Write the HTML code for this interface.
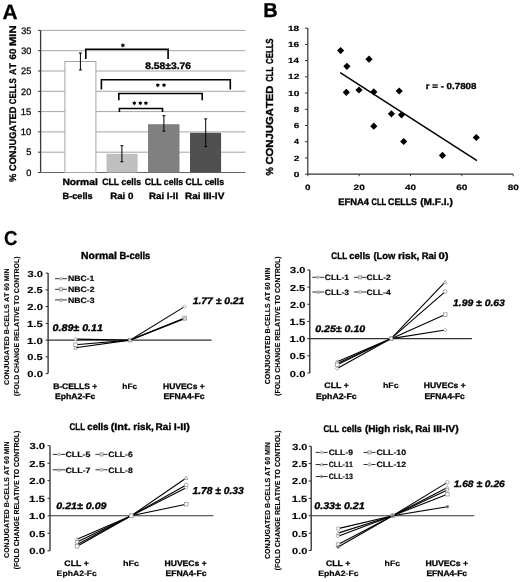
<!DOCTYPE html>
<html><head><meta charset="utf-8"><style>
html,body{margin:0;padding:0;background:#fff;width:520px;height:582px;overflow:hidden}
svg{display:block;filter:grayscale(1) blur(0.3px)}
text{font-family:"Liberation Sans",sans-serif;font-kerning:none;white-space:pre;text-rendering:geometricPrecision}
</style></head><body>
<svg width="520" height="582" viewBox="0 0 520 582">
<rect width="520" height="582" fill="#fff"/>
<text transform="translate(2.48,18.50) scale(1.0110,1)" font-size="20.640" font-weight="bold" font-style="normal" fill="#000" stroke="#000" stroke-width="0.3">A</text>
<line x1="38.00" y1="172.50" x2="40.60" y2="172.50" stroke="#3a3a3a" stroke-width="1"/>
<line x1="40.60" y1="152.20" x2="245.40" y2="152.20" stroke="#a6a6a6" stroke-width="1"/>
<line x1="38.00" y1="152.20" x2="40.60" y2="152.20" stroke="#3a3a3a" stroke-width="1"/>
<line x1="40.60" y1="131.90" x2="245.40" y2="131.90" stroke="#a6a6a6" stroke-width="1"/>
<line x1="38.00" y1="131.90" x2="40.60" y2="131.90" stroke="#3a3a3a" stroke-width="1"/>
<line x1="40.60" y1="111.60" x2="245.40" y2="111.60" stroke="#a6a6a6" stroke-width="1"/>
<line x1="38.00" y1="111.60" x2="40.60" y2="111.60" stroke="#3a3a3a" stroke-width="1"/>
<line x1="40.60" y1="91.30" x2="245.40" y2="91.30" stroke="#a6a6a6" stroke-width="1"/>
<line x1="38.00" y1="91.30" x2="40.60" y2="91.30" stroke="#3a3a3a" stroke-width="1"/>
<line x1="40.60" y1="71.00" x2="245.40" y2="71.00" stroke="#a6a6a6" stroke-width="1"/>
<line x1="38.00" y1="71.00" x2="40.60" y2="71.00" stroke="#3a3a3a" stroke-width="1"/>
<line x1="40.60" y1="50.70" x2="245.40" y2="50.70" stroke="#a6a6a6" stroke-width="1"/>
<line x1="38.00" y1="50.70" x2="40.60" y2="50.70" stroke="#3a3a3a" stroke-width="1"/>
<line x1="40.60" y1="30.40" x2="245.40" y2="30.40" stroke="#a6a6a6" stroke-width="1"/>
<line x1="38.00" y1="30.40" x2="40.60" y2="30.40" stroke="#3a3a3a" stroke-width="1"/>
<text transform="translate(26.14,175.70) scale(0.9888,1)" font-size="9.309" font-weight="normal" font-style="normal" fill="#000" stroke="#000" stroke-width="0.25">0</text>
<text transform="translate(26.13,155.40) scale(0.9823,1)" font-size="9.448" font-weight="normal" font-style="normal" fill="#000" stroke="#000" stroke-width="0.25">5</text>
<text transform="translate(20.78,135.10) scale(1.0127,1)" font-size="9.309" font-weight="normal" font-style="normal" fill="#000" stroke="#000" stroke-width="0.25">10</text>
<text transform="translate(20.78,114.80) scale(1.0008,1)" font-size="9.448" font-weight="normal" font-style="normal" fill="#000" stroke="#000" stroke-width="0.25">15</text>
<text transform="translate(21.04,94.50) scale(0.9871,1)" font-size="9.309" font-weight="normal" font-style="normal" fill="#000" stroke="#000" stroke-width="0.25">20</text>
<text transform="translate(21.04,74.20) scale(0.9899,1)" font-size="9.309" font-weight="normal" font-style="normal" fill="#000" stroke="#000" stroke-width="0.25">25</text>
<text transform="translate(21.15,53.90) scale(0.9755,1)" font-size="9.309" font-weight="normal" font-style="normal" fill="#000" stroke="#000" stroke-width="0.25">30</text>
<text transform="translate(21.15,33.60) scale(0.9782,1)" font-size="9.309" font-weight="normal" font-style="normal" fill="#000" stroke="#000" stroke-width="0.25">35</text>
<line x1="40.60" y1="30.40" x2="40.60" y2="172.50" stroke="#3a3a3a" stroke-width="1.3"/>
<line x1="40.60" y1="172.50" x2="245.40" y2="172.50" stroke="#666" stroke-width="1"/>
<rect x="64.90" y="61.50" width="31.00" height="111.00" fill="#ffffff" stroke="#a6a6a6" stroke-width="1"/>
<rect x="106.50" y="153.80" width="31.10" height="18.70" fill="#c0c0c0"/>
<rect x="148.00" y="124.20" width="31.50" height="48.30" fill="#808080"/>
<rect x="190.00" y="132.80" width="31.10" height="39.70" fill="#505050"/>
<line x1="80.40" y1="53.00" x2="80.40" y2="70.00" stroke="#000" stroke-width="1"/>
<line x1="78.90" y1="53.00" x2="81.90" y2="53.00" stroke="#000" stroke-width="1"/>
<line x1="78.90" y1="70.00" x2="81.90" y2="70.00" stroke="#000" stroke-width="1"/>
<line x1="121.90" y1="145.70" x2="121.90" y2="161.80" stroke="#000" stroke-width="1"/>
<line x1="120.40" y1="145.70" x2="123.40" y2="145.70" stroke="#000" stroke-width="1"/>
<line x1="120.40" y1="161.80" x2="123.40" y2="161.80" stroke="#000" stroke-width="1"/>
<line x1="163.90" y1="115.70" x2="163.90" y2="131.10" stroke="#000" stroke-width="1"/>
<line x1="162.40" y1="115.70" x2="165.40" y2="115.70" stroke="#000" stroke-width="1"/>
<line x1="162.40" y1="131.10" x2="165.40" y2="131.10" stroke="#000" stroke-width="1"/>
<line x1="205.70" y1="118.90" x2="205.70" y2="146.60" stroke="#000" stroke-width="1"/>
<line x1="204.20" y1="118.90" x2="207.20" y2="118.90" stroke="#000" stroke-width="1"/>
<line x1="204.20" y1="146.60" x2="207.20" y2="146.60" stroke="#000" stroke-width="1"/>
<polyline points="85.80,59.00 85.80,49.20 168.10,49.20 168.10,59.00" fill="none" stroke="#000" stroke-width="1.6" stroke-linejoin="miter"/>
<polyline points="101.40,89.60 101.40,79.70 230.30,79.70 230.30,89.60" fill="none" stroke="#000" stroke-width="1.6" stroke-linejoin="miter"/>
<polyline points="118.80,100.30 118.80,93.50 202.20,93.50 202.20,100.30" fill="none" stroke="#000" stroke-width="1.6" stroke-linejoin="miter"/>
<polyline points="119.40,112.00 119.40,108.50 162.50,108.50 162.50,112.00" fill="none" stroke="#000" stroke-width="1.6" stroke-linejoin="miter"/>
<polygon points="122.90,43.10 122.27,44.30 120.91,44.25 121.64,45.40 120.91,46.55 122.27,46.50 122.90,47.70 123.53,46.50 124.89,46.55 124.17,45.40 124.89,44.25 123.53,44.30" fill="#000"/>
<polygon points="157.80,82.90 157.17,84.10 155.81,84.05 156.54,85.20 155.81,86.35 157.17,86.30 157.80,87.50 158.43,86.30 159.79,86.35 159.06,85.20 159.79,84.05 158.43,84.10" fill="#000"/>
<polygon points="164.00,82.90 163.37,84.10 162.01,84.05 162.74,85.20 162.01,86.35 163.37,86.30 164.00,87.50 164.63,86.30 165.99,86.35 165.26,85.20 165.99,84.05 164.63,84.10" fill="#000"/>
<polygon points="134.30,100.90 133.67,102.10 132.31,102.05 133.04,103.20 132.31,104.35 133.67,104.30 134.30,105.50 134.93,104.30 136.29,104.35 135.56,103.20 136.29,102.05 134.93,102.10" fill="#000"/>
<polygon points="140.30,100.90 139.67,102.10 138.31,102.05 139.04,103.20 138.31,104.35 139.67,104.30 140.30,105.50 140.93,104.30 142.29,104.35 141.56,103.20 142.29,102.05 140.93,102.10" fill="#000"/>
<polygon points="145.90,100.90 145.27,102.10 143.91,102.05 144.64,103.20 143.91,104.35 145.27,104.30 145.90,105.50 146.53,104.30 147.89,104.35 147.16,103.20 147.89,102.05 146.53,102.10" fill="#000"/>
<text transform="translate(145.27,69.40) scale(1.0771,1)" font-size="9.596" font-weight="bold" font-style="normal" fill="#000" stroke="#000" stroke-width="0.3358433566433568">8.58±3.76</text>
<text transform="translate(62.41,184.80) scale(1.1117,1)" font-size="9.246" font-weight="bold" font-style="normal" fill="#000" stroke="#000" stroke-width="0.3236226415094348">Normal</text>
<text transform="translate(62.48,198.80) scale(1.0264,1)" font-size="8.970" font-weight="bold" font-style="normal" fill="#000" stroke="#000" stroke-width="0.3139622641509434">B-cells</text>
<text transform="translate(102.24,184.80) scale(0.9304,1)" font-size="9.384" font-weight="bold" font-style="normal" fill="#000" stroke="#000" stroke-width="0.3284528301886798">CLL cells</text>
<text transform="translate(110.15,198.50) scale(1.0728,1)" font-size="9.108" font-weight="bold" font-style="normal" fill="#000" stroke="#000" stroke-width="0.3187924528301884">Rai 0</text>
<text transform="translate(144.64,184.80) scale(0.9230,1)" font-size="9.384" font-weight="bold" font-style="normal" fill="#000" stroke="#000" stroke-width="0.3284528301886798">CLL cells</text>
<text transform="translate(148.95,198.50) scale(1.0723,1)" font-size="9.108" font-weight="bold" font-style="normal" fill="#000" stroke="#000" stroke-width="0.3187924528301884">Rai I-II</text>
<text transform="translate(185.44,184.80) scale(0.9255,1)" font-size="9.384" font-weight="bold" font-style="normal" fill="#000" stroke="#000" stroke-width="0.3284528301886798">CLL cells</text>
<text transform="translate(184.93,198.50) scale(1.0974,1)" font-size="9.108" font-weight="bold" font-style="normal" fill="#000" stroke="#000" stroke-width="0.3187924528301884">Rai III-IV</text>
<text transform="translate(15.90,182.03) rotate(-90) scale(0.9828,1)" font-size="9.593" font-weight="bold" font-style="normal" fill="#000" stroke="#000" stroke-width="0.3">%</text>
<text transform="translate(15.90,170.88) rotate(-90) scale(0.9569,1)" font-size="9.593" font-weight="bold" font-style="normal" fill="#000" stroke="#000" stroke-width="0.3">CONJUGATED</text>
<text transform="translate(15.90,104.22) rotate(-90) scale(0.8247,1)" font-size="9.593" font-weight="bold" font-style="normal" fill="#000" stroke="#000" stroke-width="0.3">CELLS</text>
<text transform="translate(15.90,75.02) rotate(-90) scale(0.9401,1)" font-size="9.593" font-weight="bold" font-style="normal" fill="#000" stroke="#000" stroke-width="0.3">AT</text>
<text transform="translate(15.90,59.45) rotate(-90) scale(1.0075,1)" font-size="9.593" font-weight="bold" font-style="normal" fill="#000" stroke="#000" stroke-width="0.3">60</text>
<text transform="translate(15.90,46.06) rotate(-90) scale(1.1782,1)" font-size="9.593" font-weight="bold" font-style="normal" fill="#000" stroke="#000" stroke-width="0.3">MIN</text>
<text transform="translate(263.26,17.30) scale(0.9973,1)" font-size="20.058" font-weight="bold" font-style="normal" fill="#000" stroke="#000" stroke-width="0.3">B</text>
<line x1="307.80" y1="28.10" x2="307.80" y2="174.20" stroke="#333" stroke-width="1.2"/>
<line x1="307.80" y1="174.20" x2="513.10" y2="174.20" stroke="#333" stroke-width="1.2"/>
<line x1="305.00" y1="174.20" x2="307.80" y2="174.20" stroke="#333" stroke-width="1"/>
<text transform="translate(293.70,176.80) scale(1.3297,1)" font-size="7.590" font-weight="bold" font-style="normal" fill="#000" stroke="#000" stroke-width="0.1518097902097897">0</text>
<line x1="305.00" y1="157.97" x2="307.80" y2="157.97" stroke="#333" stroke-width="1"/>
<text transform="translate(293.75,160.57) scale(1.3135,1)" font-size="7.590" font-weight="bold" font-style="normal" fill="#000" stroke="#000" stroke-width="0.1518097902097897">2</text>
<line x1="305.00" y1="141.74" x2="307.80" y2="141.74" stroke="#333" stroke-width="1"/>
<text transform="translate(293.96,144.34) scale(1.1632,1)" font-size="7.704" font-weight="bold" font-style="normal" fill="#000" stroke="#000" stroke-width="0.1540723917672103">4</text>
<line x1="305.00" y1="125.51" x2="307.80" y2="125.51" stroke="#333" stroke-width="1"/>
<text transform="translate(293.74,128.11) scale(1.3082,1)" font-size="7.590" font-weight="bold" font-style="normal" fill="#000" stroke="#000" stroke-width="0.15180979020979013">6</text>
<line x1="305.00" y1="109.28" x2="307.80" y2="109.28" stroke="#333" stroke-width="1"/>
<text transform="translate(293.79,111.88) scale(1.2810,1)" font-size="7.590" font-weight="bold" font-style="normal" fill="#000" stroke="#000" stroke-width="0.15180979020979013">8</text>
<line x1="305.00" y1="93.05" x2="307.80" y2="93.05" stroke="#333" stroke-width="1"/>
<text transform="translate(287.96,95.65) scale(1.3458,1)" font-size="7.590" font-weight="bold" font-style="normal" fill="#000" stroke="#000" stroke-width="0.15180979020979013">10</text>
<line x1="305.00" y1="76.82" x2="307.80" y2="76.82" stroke="#333" stroke-width="1"/>
<text transform="translate(287.96,79.42) scale(1.3445,1)" font-size="7.590" font-weight="bold" font-style="normal" fill="#000" stroke="#000" stroke-width="0.15180979020979013">12</text>
<line x1="305.00" y1="60.59" x2="307.80" y2="60.59" stroke="#333" stroke-width="1"/>
<text transform="translate(287.98,63.19) scale(1.2808,1)" font-size="7.704" font-weight="bold" font-style="normal" fill="#000" stroke="#000" stroke-width="0.1540723917672109">14</text>
<line x1="305.00" y1="44.36" x2="307.80" y2="44.36" stroke="#333" stroke-width="1"/>
<text transform="translate(287.96,46.96) scale(1.3393,1)" font-size="7.590" font-weight="bold" font-style="normal" fill="#000" stroke="#000" stroke-width="0.15180979020979032">16</text>
<line x1="305.00" y1="28.13" x2="307.80" y2="28.13" stroke="#333" stroke-width="1"/>
<text transform="translate(287.96,30.73) scale(1.3322,1)" font-size="7.590" font-weight="bold" font-style="normal" fill="#000" stroke="#000" stroke-width="0.15180979020979024">18</text>
<line x1="307.80" y1="174.20" x2="307.80" y2="176.20" stroke="#333" stroke-width="1"/>
<text transform="translate(305.06,189.50) scale(1.2779,1)" font-size="7.734" font-weight="bold" font-style="normal" fill="#000" stroke="#000" stroke-width="0.15467412587412604">0</text>
<line x1="359.15" y1="174.20" x2="359.15" y2="176.20" stroke="#333" stroke-width="1"/>
<text transform="translate(353.55,189.50) scale(1.3097,1)" font-size="7.734" font-weight="bold" font-style="normal" fill="#000" stroke="#000" stroke-width="0.15467412587412604">20</text>
<line x1="410.50" y1="174.20" x2="410.50" y2="176.20" stroke="#333" stroke-width="1"/>
<text transform="translate(405.10,189.50) scale(1.2855,1)" font-size="7.734" font-weight="bold" font-style="normal" fill="#000" stroke="#000" stroke-width="0.15467412587412604">40</text>
<line x1="461.85" y1="174.20" x2="461.85" y2="176.20" stroke="#333" stroke-width="1"/>
<text transform="translate(456.23,189.50) scale(1.3122,1)" font-size="7.734" font-weight="bold" font-style="normal" fill="#000" stroke="#000" stroke-width="0.15467412587412604">60</text>
<line x1="513.20" y1="174.20" x2="513.20" y2="176.20" stroke="#333" stroke-width="1"/>
<text transform="translate(507.63,189.50) scale(1.3060,1)" font-size="7.734" font-weight="bold" font-style="normal" fill="#000" stroke="#000" stroke-width="0.15467412587412604">80</text>
<text transform="translate(338.17,205.10) scale(0.9819,1)" font-size="9.593" font-weight="bold" font-style="normal" fill="#000" stroke="#000" stroke-width="0.33575581395348814">EFNA4</text>
<text transform="translate(371.59,205.10) scale(0.7851,1)" font-size="9.593" font-weight="bold" font-style="normal" fill="#000" stroke="#000" stroke-width="0.33575581395348814">CLL</text>
<text transform="translate(388.04,205.10) scale(0.9193,1)" font-size="9.593" font-weight="bold" font-style="normal" fill="#000" stroke="#000" stroke-width="0.33575581395348814">CELLS</text>
<text transform="translate(420.20,205.10) scale(1.0553,1)" font-size="9.593" font-weight="bold" font-style="normal" fill="#000" stroke="#000" stroke-width="0.33575581395348814">(M.F.I.)</text>
<text transform="translate(273.20,175.53) rotate(-90) scale(0.9150,1)" font-size="10.174" font-weight="bold" font-style="normal" fill="#000" stroke="#000" stroke-width="0.3561046511627908">%</text>
<text transform="translate(273.20,164.56) rotate(-90) scale(1.1097,1)" font-size="10.174" font-weight="bold" font-style="normal" fill="#000" stroke="#000" stroke-width="0.3561046511627908">CONJUGATED</text>
<text transform="translate(273.20,81.82) rotate(-90) scale(0.7560,1)" font-size="10.174" font-weight="bold" font-style="normal" fill="#000" stroke="#000" stroke-width="0.3561046511627908">CLL</text>
<text transform="translate(273.20,63.92) rotate(-90) scale(0.7653,1)" font-size="10.174" font-weight="bold" font-style="normal" fill="#000" stroke="#000" stroke-width="0.3561046511627908">CELLS</text>
<polygon points="340.6,47.0 344.20000000000005,50.6 340.6,54.2 337.0,50.6" fill="#000"/>
<polygon points="369,55.6 372.6,59.2 369,62.800000000000004 365.4,59.2" fill="#000"/>
<polygon points="346.9,62.699999999999996 350.5,66.3 346.9,69.89999999999999 343.29999999999995,66.3" fill="#000"/>
<polygon points="346.3,88.7 349.90000000000003,92.3 346.3,95.89999999999999 342.7,92.3" fill="#000"/>
<polygon points="359,86.4 362.6,90 359,93.6 355.4,90" fill="#000"/>
<polygon points="373.8,88.30000000000001 377.40000000000003,91.9 373.8,95.5 370.2,91.9" fill="#000"/>
<polygon points="399.2,87.4 402.8,91 399.2,94.6 395.59999999999997,91" fill="#000"/>
<polygon points="373.8,122.60000000000001 377.40000000000003,126.2 373.8,129.8 370.2,126.2" fill="#000"/>
<polygon points="391.4,110.2 395.0,113.8 391.4,117.39999999999999 387.79999999999995,113.8" fill="#000"/>
<polygon points="401.5,111.2 405.1,114.8 401.5,118.39999999999999 397.9,114.8" fill="#000"/>
<polygon points="403.7,137.9 407.3,141.5 403.7,145.1 400.09999999999997,141.5" fill="#000"/>
<polygon points="442.5,151.8 446.1,155.4 442.5,159.0 438.9,155.4" fill="#000"/>
<polygon points="476.3,133.9 479.90000000000003,137.5 476.3,141.1 472.7,137.5" fill="#000"/>
<line x1="340.20" y1="72.70" x2="477.00" y2="160.60" stroke="#000" stroke-width="1.5"/>
<text transform="translate(425.76,89.30) scale(1.1174,1)" font-size="8.736" font-weight="bold" font-style="normal" fill="#000" stroke="#000" stroke-width="0.30576783216783193">r = - 0.7808</text>
<text transform="translate(4.03,245.30) scale(0.9241,1)" font-size="20.194" font-weight="bold" font-style="normal" fill="#000" stroke="#000" stroke-width="0.2">C</text>
<line x1="48.10" y1="273.10" x2="48.10" y2="373.60" stroke="#2a2a2a" stroke-width="1.3"/>
<line x1="45.60" y1="373.60" x2="48.10" y2="373.60" stroke="#2a2a2a" stroke-width="1"/>
<line x1="45.60" y1="356.85" x2="48.10" y2="356.85" stroke="#2a2a2a" stroke-width="1"/>
<line x1="45.60" y1="340.10" x2="48.10" y2="340.10" stroke="#2a2a2a" stroke-width="1"/>
<line x1="45.60" y1="323.35" x2="48.10" y2="323.35" stroke="#2a2a2a" stroke-width="1"/>
<line x1="45.60" y1="306.60" x2="48.10" y2="306.60" stroke="#2a2a2a" stroke-width="1"/>
<line x1="45.60" y1="289.85" x2="48.10" y2="289.85" stroke="#2a2a2a" stroke-width="1"/>
<line x1="45.60" y1="273.10" x2="48.10" y2="273.10" stroke="#2a2a2a" stroke-width="1"/>
<line x1="48.10" y1="340.10" x2="211.60" y2="340.10" stroke="#333" stroke-width="1.2"/>
<text transform="translate(27.25,377.10) scale(1.2936,1)" font-size="8.736" font-weight="bold" font-style="normal" fill="#000" stroke="#000" stroke-width="0.12">0.0</text>
<text transform="translate(27.26,360.35) scale(1.2807,1)" font-size="8.736" font-weight="bold" font-style="normal" fill="#000" stroke="#000" stroke-width="0.12">0.5</text>
<text transform="translate(26.98,343.60) scale(1.3172,1)" font-size="8.736" font-weight="bold" font-style="normal" fill="#000" stroke="#000" stroke-width="0.12">1.0</text>
<text transform="translate(26.98,326.85) scale(1.2847,1)" font-size="8.866" font-weight="bold" font-style="normal" fill="#000" stroke="#000" stroke-width="0.12">1.5</text>
<text transform="translate(27.31,310.10) scale(1.2888,1)" font-size="8.736" font-weight="bold" font-style="normal" fill="#000" stroke="#000" stroke-width="0.12">2.0</text>
<text transform="translate(27.31,293.35) scale(1.2760,1)" font-size="8.736" font-weight="bold" font-style="normal" fill="#000" stroke="#000" stroke-width="0.12">2.5</text>
<text transform="translate(27.44,276.60) scale(1.2774,1)" font-size="8.736" font-weight="bold" font-style="normal" fill="#000" stroke="#000" stroke-width="0.12">3.0</text>
<polyline points="75.50,339.10 130.00,340.10 184.60,306.60" fill="none" stroke="#000" stroke-width="1.1" stroke-linejoin="miter"/>
<polygon points="75.50,337.30 77.30,339.10 75.50,340.90 73.70,339.10" fill="#fff" stroke="#999" stroke-width="0.8"/>
<polygon points="130.00,338.30 131.80,340.10 130.00,341.90 128.20,340.10" fill="#fff" stroke="#999" stroke-width="0.8"/>
<polygon points="184.60,304.80 186.40,306.60 184.60,308.40 182.80,306.60" fill="#fff" stroke="#999" stroke-width="0.8"/>
<polyline points="75.50,344.79 130.00,340.10 184.60,317.99" fill="none" stroke="#000" stroke-width="1.1" stroke-linejoin="miter"/>
<rect x="73.70" y="342.99" width="3.60" height="3.60" fill="#fff" stroke="#999" stroke-width="0.8"/>
<rect x="128.20" y="338.30" width="3.60" height="3.60" fill="#fff" stroke="#999" stroke-width="0.8"/>
<rect x="182.80" y="316.19" width="3.60" height="3.60" fill="#fff" stroke="#999" stroke-width="0.8"/>
<polyline points="75.50,347.81 130.00,340.10 184.60,318.66" fill="none" stroke="#000" stroke-width="1.1" stroke-linejoin="miter"/>
<polygon points="75.50,346.00 77.30,349.25 73.70,349.25" fill="#fff" stroke="#999" stroke-width="0.8"/>
<polygon points="130.00,338.30 131.80,341.54 128.20,341.54" fill="#fff" stroke="#999" stroke-width="0.8"/>
<polygon points="184.60,316.86 186.40,320.10 182.80,320.10" fill="#fff" stroke="#999" stroke-width="0.8"/>
<line x1="55.00" y1="278.70" x2="66.90" y2="278.70" stroke="#333" stroke-width="1"/>
<polygon points="60.95,277.10 62.55,278.70 60.95,280.30 59.35,278.70" fill="#d8d8d8" stroke="#999" stroke-width="0.8"/>
<text transform="translate(67.92,281.40) scale(1.1223,1)" font-size="7.734" font-weight="bold" font-style="normal" fill="#000" stroke="#000" stroke-width="0.1546741258741252">NBC-1</text>
<line x1="55.00" y1="289.30" x2="66.90" y2="289.30" stroke="#333" stroke-width="1"/>
<rect x="59.35" y="287.70" width="3.20" height="3.20" fill="#d8d8d8" stroke="#999" stroke-width="0.8"/>
<text transform="translate(67.92,292.00) scale(1.1270,1)" font-size="7.734" font-weight="bold" font-style="normal" fill="#000" stroke="#000" stroke-width="0.1546741258741252">NBC-2</text>
<line x1="55.00" y1="299.90" x2="66.90" y2="299.90" stroke="#333" stroke-width="1"/>
<polygon points="60.95,298.30 62.55,301.18 59.35,301.18" fill="#d8d8d8" stroke="#999" stroke-width="0.8"/>
<text transform="translate(67.92,302.60) scale(1.1255,1)" font-size="7.734" font-weight="bold" font-style="normal" fill="#000" stroke="#000" stroke-width="0.1546741258741252">NBC-3</text>
<text transform="translate(81.10,259.40) scale(1.0222,1)" font-size="10.174" font-weight="bold" font-style="normal" fill="#000" stroke="#000" stroke-width="0.35610465116278933">Normal</text>
<text transform="translate(119.57,259.40) scale(0.9235,1)" font-size="10.174" font-weight="bold" font-style="normal" fill="#000" stroke="#000" stroke-width="0.35610465116278933">B-cells</text>
<text transform="translate(52.56,331.20) scale(1.0992,1)" font-size="9.739" font-weight="bold" font-style="italic" fill="#000" stroke="#000" stroke-width="0.34085594405594466">0.89± 0.11</text>
<text transform="translate(192.63,304.10) scale(1.0808,1)" font-size="9.596" font-weight="bold" font-style="italic" fill="#000" stroke="#000" stroke-width="0.3358433566433589">1.77 ± 0.21</text>
<text transform="translate(53.13,388.70) scale(1.0588,1)" font-size="8.020" font-weight="bold" font-style="normal" fill="#000" stroke="#000" stroke-width="0.28070489510489344">B-CELLS +</text>
<text transform="translate(55.02,398.50) scale(1.0769,1)" font-size="8.004" font-weight="bold" font-style="normal" fill="#000" stroke="#000" stroke-width="0.28015094339622704">EphA2-Fc</text>
<text transform="translate(122.32,388.70) scale(1.0791,1)" font-size="7.728" font-weight="bold" font-style="normal" fill="#000" stroke="#000" stroke-width="0.15456603773584812">hFc</text>
<text transform="translate(163.03,388.70) scale(1.0574,1)" font-size="8.020" font-weight="bold" font-style="normal" fill="#000" stroke="#000" stroke-width="0.28070489510489344">HUVECs +</text>
<text transform="translate(163.42,398.50) scale(1.0235,1)" font-size="8.430" font-weight="bold" font-style="normal" fill="#000" stroke="#000" stroke-width="0.2950631653655081">EFNA4-Fc</text>
<text transform="translate(9.00,384.89) rotate(-90) scale(1.0202,1)" font-size="6.831" font-weight="bold" font-style="normal" fill="#000" stroke="#000" stroke-width="0.12">CONJUGATED B-CELLS AT 60 MIN</text>
<text transform="translate(19.20,396.05) rotate(-90) scale(0.9957,1)" font-size="6.977" font-weight="bold" font-style="normal" fill="#000" stroke="#000" stroke-width="0.12">(FOLD CHANGE RELATIVE TO CONTROL)</text>
<line x1="309.80" y1="269.90" x2="309.80" y2="373.00" stroke="#2a2a2a" stroke-width="1.3"/>
<line x1="307.30" y1="373.00" x2="309.80" y2="373.00" stroke="#2a2a2a" stroke-width="1"/>
<line x1="307.30" y1="355.82" x2="309.80" y2="355.82" stroke="#2a2a2a" stroke-width="1"/>
<line x1="307.30" y1="338.63" x2="309.80" y2="338.63" stroke="#2a2a2a" stroke-width="1"/>
<line x1="307.30" y1="321.45" x2="309.80" y2="321.45" stroke="#2a2a2a" stroke-width="1"/>
<line x1="307.30" y1="304.27" x2="309.80" y2="304.27" stroke="#2a2a2a" stroke-width="1"/>
<line x1="307.30" y1="287.08" x2="309.80" y2="287.08" stroke="#2a2a2a" stroke-width="1"/>
<line x1="307.30" y1="269.90" x2="309.80" y2="269.90" stroke="#2a2a2a" stroke-width="1"/>
<line x1="309.80" y1="338.63" x2="471.90" y2="338.63" stroke="#333" stroke-width="1.2"/>
<text transform="translate(289.86,376.50) scale(1.2761,1)" font-size="8.736" font-weight="bold" font-style="normal" fill="#000" stroke="#000" stroke-width="0.12">0.0</text>
<text transform="translate(289.86,359.32) scale(1.2634,1)" font-size="8.736" font-weight="bold" font-style="normal" fill="#000" stroke="#000" stroke-width="0.12">0.5</text>
<text transform="translate(289.58,342.13) scale(1.2994,1)" font-size="8.736" font-weight="bold" font-style="normal" fill="#000" stroke="#000" stroke-width="0.12">1.0</text>
<text transform="translate(289.59,324.95) scale(1.2673,1)" font-size="8.866" font-weight="bold" font-style="normal" fill="#000" stroke="#000" stroke-width="0.12">1.5</text>
<text transform="translate(289.91,307.77) scale(1.2714,1)" font-size="8.736" font-weight="bold" font-style="normal" fill="#000" stroke="#000" stroke-width="0.12">2.0</text>
<text transform="translate(289.92,290.58) scale(1.2588,1)" font-size="8.736" font-weight="bold" font-style="normal" fill="#000" stroke="#000" stroke-width="0.12">2.5</text>
<text transform="translate(290.05,273.40) scale(1.2602,1)" font-size="8.736" font-weight="bold" font-style="normal" fill="#000" stroke="#000" stroke-width="0.12">3.0</text>
<polyline points="337.20,361.66 391.10,338.63 445.20,281.93" fill="none" stroke="#000" stroke-width="1.1" stroke-linejoin="miter"/>
<polygon points="337.20,359.86 339.00,363.10 335.40,363.10" fill="#fff" stroke="#999" stroke-width="0.8"/>
<polygon points="391.10,336.83 392.90,340.07 389.30,340.07" fill="#fff" stroke="#999" stroke-width="0.8"/>
<polygon points="445.20,280.13 447.00,283.37 443.40,283.37" fill="#fff" stroke="#999" stroke-width="0.8"/>
<polyline points="337.20,363.38 391.10,338.63 445.20,291.55" fill="none" stroke="#000" stroke-width="1.1" stroke-linejoin="miter"/>
<circle cx="337.20" cy="363.38" r="1.8" fill="#fff" stroke="#999" stroke-width="0.8"/>
<circle cx="391.10" cy="338.63" r="1.8" fill="#fff" stroke="#999" stroke-width="0.8"/>
<circle cx="445.20" cy="291.55" r="1.8" fill="#fff" stroke="#999" stroke-width="0.8"/>
<polyline points="337.20,364.75 391.10,338.63 445.20,314.58" fill="none" stroke="#000" stroke-width="1.1" stroke-linejoin="miter"/>
<rect x="335.40" y="362.95" width="3.60" height="3.60" fill="#fff" stroke="#999" stroke-width="0.8"/>
<rect x="389.30" y="336.83" width="3.60" height="3.60" fill="#fff" stroke="#999" stroke-width="0.8"/>
<rect x="443.40" y="312.78" width="3.60" height="3.60" fill="#fff" stroke="#999" stroke-width="0.8"/>
<polyline points="337.20,368.53 391.10,338.63 445.20,330.04" fill="none" stroke="#000" stroke-width="1.1" stroke-linejoin="miter"/>
<polygon points="337.20,366.73 339.00,368.53 337.20,370.33 335.40,368.53" fill="#fff" stroke="#999" stroke-width="0.8"/>
<polygon points="391.10,336.83 392.90,338.63 391.10,340.43 389.30,338.63" fill="#fff" stroke="#999" stroke-width="0.8"/>
<polygon points="445.20,328.24 447.00,330.04 445.20,331.84 443.40,330.04" fill="#fff" stroke="#999" stroke-width="0.8"/>
<line x1="312.30" y1="277.30" x2="324.20" y2="277.30" stroke="#333" stroke-width="1"/>
<polygon points="318.25,275.70 319.85,277.30 318.25,278.90 316.65,277.30" fill="#d8d8d8" stroke="#999" stroke-width="0.8"/>
<text transform="translate(324.85,280.00) scale(1.1040,1)" font-size="7.734" font-weight="bold" font-style="normal" fill="#000" stroke="#000" stroke-width="0.1546741258741252">CLL-1</text>
<line x1="354.00" y1="277.30" x2="366.20" y2="277.30" stroke="#333" stroke-width="1"/>
<rect x="358.50" y="275.70" width="3.20" height="3.20" fill="#d8d8d8" stroke="#999" stroke-width="0.8"/>
<text transform="translate(366.55,280.00) scale(1.1136,1)" font-size="7.734" font-weight="bold" font-style="normal" fill="#000" stroke="#000" stroke-width="0.1546741258741252">CLL-2</text>
<line x1="312.30" y1="292.00" x2="324.20" y2="292.00" stroke="#333" stroke-width="1"/>
<polygon points="318.25,290.40 319.85,293.28 316.65,293.28" fill="#d8d8d8" stroke="#999" stroke-width="0.8"/>
<text transform="translate(324.85,294.70) scale(1.1073,1)" font-size="7.734" font-weight="bold" font-style="normal" fill="#000" stroke="#000" stroke-width="0.1546741258741252">CLL-3</text>
<line x1="354.00" y1="292.00" x2="366.20" y2="292.00" stroke="#333" stroke-width="1"/>
<circle cx="360.10" cy="292.00" r="1.6" fill="#d8d8d8" stroke="#999" stroke-width="0.8"/>
<text transform="translate(366.55,294.70) scale(1.0997,1)" font-size="7.734" font-weight="bold" font-style="normal" fill="#000" stroke="#000" stroke-width="0.1546741258741252">CLL-4</text>
<text transform="translate(331.37,258.80) scale(0.8464,1)" font-size="9.593" font-weight="bold" font-style="normal" fill="#000" stroke="#000" stroke-width="0.3357558139534896">CLL</text>
<text transform="translate(349.33,258.80) scale(0.9870,1)" font-size="9.593" font-weight="bold" font-style="normal" fill="#000" stroke="#000" stroke-width="0.3357558139534896">cells</text>
<text transform="translate(373.43,258.80) scale(0.9810,1)" font-size="9.593" font-weight="bold" font-style="normal" fill="#000" stroke="#000" stroke-width="0.3357558139534896">(Low</text>
<text transform="translate(397.91,258.80) scale(1.0943,1)" font-size="9.593" font-weight="bold" font-style="normal" fill="#000" stroke="#000" stroke-width="0.3357558139534896">risk,</text>
<text transform="translate(421.66,258.80) scale(0.9921,1)" font-size="9.593" font-weight="bold" font-style="normal" fill="#000" stroke="#000" stroke-width="0.3357558139534896">Rai</text>
<text transform="translate(438.45,258.80) scale(1.1730,1)" font-size="9.593" font-weight="bold" font-style="normal" fill="#000" stroke="#000" stroke-width="0.3357558139534896">0)</text>
<text transform="translate(315.26,331.80) scale(1.1051,1)" font-size="9.596" font-weight="bold" font-style="italic" fill="#000" stroke="#000" stroke-width="0.33584335664335613">0.25± 0.10</text>
<text transform="translate(453.03,306.00) scale(1.0984,1)" font-size="9.452" font-weight="bold" font-style="italic" fill="#000" stroke="#000" stroke-width="0.3308307692307704">1.99 ± 0.63</text>
<text transform="translate(324.34,388.40) scale(1.0939,1)" font-size="8.020" font-weight="bold" font-style="normal" fill="#000" stroke="#000" stroke-width="0.28070489510489344">CLL +</text>
<text transform="translate(315.92,398.80) scale(1.0906,1)" font-size="8.004" font-weight="bold" font-style="normal" fill="#000" stroke="#000" stroke-width="0.28015094339622704">EphA2-Fc</text>
<text transform="translate(382.99,388.40) scale(1.1331,1)" font-size="7.728" font-weight="bold" font-style="normal" fill="#000" stroke="#000" stroke-width="0.15456603773584812">hFc</text>
<text transform="translate(423.83,388.40) scale(1.0600,1)" font-size="8.020" font-weight="bold" font-style="normal" fill="#000" stroke="#000" stroke-width="0.28070489510489344">HUVECs +</text>
<text transform="translate(424.43,398.80) scale(1.0032,1)" font-size="8.430" font-weight="bold" font-style="normal" fill="#000" stroke="#000" stroke-width="0.2950631653655081">EFNA4-Fc</text>
<text transform="translate(269.50,384.19) rotate(-90) scale(0.9615,1)" font-size="7.267" font-weight="bold" font-style="normal" fill="#000" stroke="#000" stroke-width="0.12">CONJUGATED B-CELLS AT 60 MIN</text>
<text transform="translate(279.60,395.85) rotate(-90) scale(0.9565,1)" font-size="7.267" font-weight="bold" font-style="normal" fill="#000" stroke="#000" stroke-width="0.12">(FOLD CHANGE RELATIVE TO CONTROL)</text>
<line x1="50.00" y1="445.70" x2="50.00" y2="550.80" stroke="#2a2a2a" stroke-width="1.3"/>
<line x1="47.50" y1="550.80" x2="50.00" y2="550.80" stroke="#2a2a2a" stroke-width="1"/>
<line x1="47.50" y1="533.28" x2="50.00" y2="533.28" stroke="#2a2a2a" stroke-width="1"/>
<line x1="47.50" y1="515.77" x2="50.00" y2="515.77" stroke="#2a2a2a" stroke-width="1"/>
<line x1="47.50" y1="498.25" x2="50.00" y2="498.25" stroke="#2a2a2a" stroke-width="1"/>
<line x1="47.50" y1="480.73" x2="50.00" y2="480.73" stroke="#2a2a2a" stroke-width="1"/>
<line x1="47.50" y1="463.22" x2="50.00" y2="463.22" stroke="#2a2a2a" stroke-width="1"/>
<line x1="47.50" y1="445.70" x2="50.00" y2="445.70" stroke="#2a2a2a" stroke-width="1"/>
<line x1="50.00" y1="515.77" x2="213.50" y2="515.77" stroke="#333" stroke-width="1.2"/>
<text transform="translate(29.25,554.30) scale(1.3111,1)" font-size="8.736" font-weight="bold" font-style="normal" fill="#000" stroke="#000" stroke-width="0.12">0.0</text>
<text transform="translate(29.25,536.78) scale(1.2980,1)" font-size="8.736" font-weight="bold" font-style="normal" fill="#000" stroke="#000" stroke-width="0.12">0.5</text>
<text transform="translate(28.97,519.27) scale(1.3350,1)" font-size="8.736" font-weight="bold" font-style="normal" fill="#000" stroke="#000" stroke-width="0.12">1.0</text>
<text transform="translate(28.97,501.75) scale(1.3020,1)" font-size="8.866" font-weight="bold" font-style="normal" fill="#000" stroke="#000" stroke-width="0.12">1.5</text>
<text transform="translate(29.30,484.23) scale(1.3062,1)" font-size="8.736" font-weight="bold" font-style="normal" fill="#000" stroke="#000" stroke-width="0.12">2.0</text>
<text transform="translate(29.31,466.72) scale(1.2933,1)" font-size="8.736" font-weight="bold" font-style="normal" fill="#000" stroke="#000" stroke-width="0.12">2.5</text>
<text transform="translate(29.44,449.20) scale(1.2947,1)" font-size="8.736" font-weight="bold" font-style="normal" fill="#000" stroke="#000" stroke-width="0.12">3.0</text>
<polyline points="77.10,539.24 131.30,515.77 186.20,477.93" fill="none" stroke="#000" stroke-width="1.1" stroke-linejoin="miter"/>
<polygon points="77.10,537.44 78.90,540.68 75.30,540.68" fill="#fff" stroke="#999" stroke-width="0.8"/>
<polygon points="131.30,513.97 133.10,517.21 129.50,517.21" fill="#fff" stroke="#999" stroke-width="0.8"/>
<polygon points="186.20,476.13 188.00,479.37 184.40,479.37" fill="#fff" stroke="#999" stroke-width="0.8"/>
<polyline points="77.10,542.04 131.30,515.77 186.20,484.94" fill="none" stroke="#000" stroke-width="1.1" stroke-linejoin="miter"/>
<circle cx="77.10" cy="542.04" r="1.8" fill="#fff" stroke="#999" stroke-width="0.8"/>
<circle cx="131.30" cy="515.77" r="1.8" fill="#fff" stroke="#999" stroke-width="0.8"/>
<circle cx="186.20" cy="484.94" r="1.8" fill="#fff" stroke="#999" stroke-width="0.8"/>
<polyline points="77.10,544.49 131.30,515.77 186.20,487.74" fill="none" stroke="#000" stroke-width="1.1" stroke-linejoin="miter"/>
<polygon points="77.10,542.69 78.90,544.49 77.10,546.29 75.30,544.49" fill="#fff" stroke="#999" stroke-width="0.8"/>
<polygon points="131.30,513.97 133.10,515.77 131.30,517.57 129.50,515.77" fill="#fff" stroke="#999" stroke-width="0.8"/>
<polygon points="186.20,485.94 188.00,487.74 186.20,489.54 184.40,487.74" fill="#fff" stroke="#999" stroke-width="0.8"/>
<polyline points="77.10,546.25 131.30,515.77 186.20,504.21" fill="none" stroke="#000" stroke-width="1.1" stroke-linejoin="miter"/>
<rect x="75.30" y="544.45" width="3.60" height="3.60" fill="#fff" stroke="#999" stroke-width="0.8"/>
<rect x="129.50" y="513.97" width="3.60" height="3.60" fill="#fff" stroke="#999" stroke-width="0.8"/>
<rect x="184.40" y="502.41" width="3.60" height="3.60" fill="#fff" stroke="#999" stroke-width="0.8"/>
<line x1="52.70" y1="454.40" x2="65.20" y2="454.40" stroke="#333" stroke-width="1"/>
<polygon points="58.95,452.80 60.55,454.40 58.95,456.00 57.35,454.40" fill="#d8d8d8" stroke="#999" stroke-width="0.8"/>
<text transform="translate(65.44,457.10) scale(1.1414,1)" font-size="7.734" font-weight="bold" font-style="normal" fill="#000" stroke="#000" stroke-width="0.1546741258741252">CLL-5</text>
<line x1="95.40" y1="454.40" x2="107.50" y2="454.40" stroke="#333" stroke-width="1"/>
<rect x="99.85" y="452.80" width="3.20" height="3.20" fill="#d8d8d8" stroke="#999" stroke-width="0.8"/>
<text transform="translate(108.14,457.10) scale(1.1261,1)" font-size="7.734" font-weight="bold" font-style="normal" fill="#000" stroke="#000" stroke-width="0.1546741258741252">CLL-6</text>
<line x1="52.70" y1="469.80" x2="65.20" y2="469.80" stroke="#333" stroke-width="1"/>
<polygon points="58.95,468.20 60.55,471.08 57.35,471.08" fill="#d8d8d8" stroke="#999" stroke-width="0.8"/>
<text transform="translate(65.44,472.50) scale(1.1481,1)" font-size="7.734" font-weight="bold" font-style="normal" fill="#000" stroke="#000" stroke-width="0.1546741258741252">CLL-7</text>
<line x1="95.40" y1="469.80" x2="107.50" y2="469.80" stroke="#333" stroke-width="1"/>
<circle cx="101.45" cy="469.80" r="1.6" fill="#d8d8d8" stroke="#999" stroke-width="0.8"/>
<text transform="translate(108.14,472.50) scale(1.1239,1)" font-size="7.734" font-weight="bold" font-style="normal" fill="#000" stroke="#000" stroke-width="0.1546741258741252">CLL-8</text>
<text transform="translate(69.57,429.70) scale(0.8173,1)" font-size="9.738" font-weight="bold" font-style="normal" fill="#000" stroke="#000" stroke-width="0.34084302325581345">CLL</text>
<text transform="translate(87.33,429.70) scale(0.9818,1)" font-size="9.738" font-weight="bold" font-style="normal" fill="#000" stroke="#000" stroke-width="0.34084302325581345">cells</text>
<text transform="translate(110.65,429.70) scale(1.1264,1)" font-size="9.738" font-weight="bold" font-style="normal" fill="#000" stroke="#000" stroke-width="0.34084302325581345">(Int.</text>
<text transform="translate(133.35,429.70) scale(1.0192,1)" font-size="9.738" font-weight="bold" font-style="normal" fill="#000" stroke="#000" stroke-width="0.34084302325581345">risk,</text>
<text transform="translate(155.53,429.70) scale(1.0352,1)" font-size="9.738" font-weight="bold" font-style="normal" fill="#000" stroke="#000" stroke-width="0.34084302325581345">Rai</text>
<text transform="translate(173.67,429.70) scale(1.1139,1)" font-size="9.738" font-weight="bold" font-style="normal" fill="#000" stroke="#000" stroke-width="0.34084302325581345">I-II)</text>
<text transform="translate(56.36,509.20) scale(1.1424,1)" font-size="9.309" font-weight="bold" font-style="italic" fill="#000" stroke="#000" stroke-width="0.32581818181818184">0.21± 0.09</text>
<text transform="translate(192.43,493.50) scale(1.0256,1)" font-size="10.025" font-weight="bold" font-style="italic" fill="#000" stroke="#000" stroke-width="0.35088111888111895">1.78 ± 0.33</text>
<text transform="translate(64.34,565.90) scale(1.0939,1)" font-size="8.020" font-weight="bold" font-style="normal" fill="#000" stroke="#000" stroke-width="0.28070489510489627">CLL +</text>
<text transform="translate(56.62,576.30) scale(1.1182,1)" font-size="7.728" font-weight="bold" font-style="normal" fill="#000" stroke="#000" stroke-width="0.15456603773584657">EphA2-Fc</text>
<text transform="translate(122.96,565.90) scale(1.1793,1)" font-size="7.728" font-weight="bold" font-style="normal" fill="#000" stroke="#000" stroke-width="0.15456603773584968">hFc</text>
<text transform="translate(164.53,565.90) scale(1.0678,1)" font-size="8.020" font-weight="bold" font-style="normal" fill="#000" stroke="#000" stroke-width="0.28070489510489627">HUVECs +</text>
<text transform="translate(165.42,576.30) scale(1.0574,1)" font-size="8.140" font-weight="bold" font-style="normal" fill="#000" stroke="#000" stroke-width="0.28488857345634744">EFNA4-Fc</text>
<text transform="translate(9.00,557.89) rotate(-90) scale(0.9990,1)" font-size="6.977" font-weight="bold" font-style="normal" fill="#000" stroke="#000" stroke-width="0.12">CONJUGATED B-CELLS AT 60 MIN</text>
<text transform="translate(19.20,569.34) rotate(-90) scale(0.9510,1)" font-size="7.267" font-weight="bold" font-style="normal" fill="#000" stroke="#000" stroke-width="0.12">(FOLD CHANGE RELATIVE TO CONTROL)</text>
<line x1="311.20" y1="446.20" x2="311.20" y2="550.50" stroke="#2a2a2a" stroke-width="1.3"/>
<line x1="308.70" y1="550.50" x2="311.20" y2="550.50" stroke="#2a2a2a" stroke-width="1"/>
<line x1="308.70" y1="533.12" x2="311.20" y2="533.12" stroke="#2a2a2a" stroke-width="1"/>
<line x1="308.70" y1="515.73" x2="311.20" y2="515.73" stroke="#2a2a2a" stroke-width="1"/>
<line x1="308.70" y1="498.35" x2="311.20" y2="498.35" stroke="#2a2a2a" stroke-width="1"/>
<line x1="308.70" y1="480.97" x2="311.20" y2="480.97" stroke="#2a2a2a" stroke-width="1"/>
<line x1="308.70" y1="463.58" x2="311.20" y2="463.58" stroke="#2a2a2a" stroke-width="1"/>
<line x1="308.70" y1="446.20" x2="311.20" y2="446.20" stroke="#2a2a2a" stroke-width="1"/>
<line x1="311.20" y1="515.73" x2="474.20" y2="515.73" stroke="#333" stroke-width="1.2"/>
<text transform="translate(292.07,554.00) scale(1.2587,1)" font-size="8.736" font-weight="bold" font-style="normal" fill="#000" stroke="#000" stroke-width="0.12">0.0</text>
<text transform="translate(292.07,536.62) scale(1.2461,1)" font-size="8.736" font-weight="bold" font-style="normal" fill="#000" stroke="#000" stroke-width="0.12">0.5</text>
<text transform="translate(291.79,519.23) scale(1.2816,1)" font-size="8.736" font-weight="bold" font-style="normal" fill="#000" stroke="#000" stroke-width="0.12">1.0</text>
<text transform="translate(291.80,501.85) scale(1.2500,1)" font-size="8.866" font-weight="bold" font-style="normal" fill="#000" stroke="#000" stroke-width="0.12">1.5</text>
<text transform="translate(292.12,484.47) scale(1.2540,1)" font-size="8.736" font-weight="bold" font-style="normal" fill="#000" stroke="#000" stroke-width="0.12">2.0</text>
<text transform="translate(292.12,467.08) scale(1.2415,1)" font-size="8.736" font-weight="bold" font-style="normal" fill="#000" stroke="#000" stroke-width="0.12">2.5</text>
<text transform="translate(292.25,449.70) scale(1.2429,1)" font-size="8.736" font-weight="bold" font-style="normal" fill="#000" stroke="#000" stroke-width="0.12">3.0</text>
<polyline points="338.10,528.60 392.70,515.73 447.40,482.36" fill="none" stroke="#000" stroke-width="1.1" stroke-linejoin="miter"/>
<circle cx="338.10" cy="528.60" r="1.8" fill="#fff" stroke="#999" stroke-width="0.8"/>
<circle cx="392.70" cy="515.73" r="1.8" fill="#fff" stroke="#999" stroke-width="0.8"/>
<circle cx="447.40" cy="482.36" r="1.8" fill="#fff" stroke="#999" stroke-width="0.8"/>
<polyline points="338.10,533.12 392.70,515.73 447.40,487.57" fill="none" stroke="#000" stroke-width="1.1" stroke-linejoin="miter"/>
<polygon points="338.10,531.32 339.90,534.56 336.30,534.56" fill="#fff" stroke="#999" stroke-width="0.8"/>
<polygon points="392.70,513.93 394.50,517.17 390.90,517.17" fill="#fff" stroke="#999" stroke-width="0.8"/>
<polygon points="447.40,485.77 449.20,489.01 445.60,489.01" fill="#fff" stroke="#999" stroke-width="0.8"/>
<polyline points="338.10,536.25 392.70,515.73 447.40,490.01" fill="none" stroke="#000" stroke-width="1.1" stroke-linejoin="miter"/>
<polygon points="338.10,534.45 339.90,536.25 338.10,538.05 336.30,536.25" fill="#fff" stroke="#999" stroke-width="0.8"/>
<polygon points="392.70,513.93 394.50,515.73 392.70,517.53 390.90,515.73" fill="#fff" stroke="#999" stroke-width="0.8"/>
<polygon points="447.40,488.21 449.20,490.01 447.40,491.81 445.60,490.01" fill="#fff" stroke="#999" stroke-width="0.8"/>
<polyline points="338.10,544.59 392.70,515.73 447.40,494.18" fill="none" stroke="#000" stroke-width="1.1" stroke-linejoin="miter"/>
<rect x="336.30" y="542.79" width="3.60" height="3.60" fill="#fff" stroke="#999" stroke-width="0.8"/>
<rect x="390.90" y="513.93" width="3.60" height="3.60" fill="#fff" stroke="#999" stroke-width="0.8"/>
<rect x="445.60" y="492.38" width="3.60" height="3.60" fill="#fff" stroke="#999" stroke-width="0.8"/>
<polyline points="338.10,547.02 392.70,515.73 447.40,506.69" fill="none" stroke="#000" stroke-width="1.1" stroke-linejoin="miter"/>
<circle cx="338.10" cy="547.02" r="1.4400000000000002" fill="#666" stroke="#999" stroke-width="0.6"/>
<circle cx="392.70" cy="515.73" r="1.4400000000000002" fill="#666" stroke="#999" stroke-width="0.6"/>
<circle cx="447.40" cy="506.69" r="1.4400000000000002" fill="#666" stroke="#999" stroke-width="0.6"/>
<line x1="315.60" y1="452.40" x2="327.70" y2="452.40" stroke="#333" stroke-width="1"/>
<polygon points="321.65,450.80 323.25,452.40 321.65,454.00 320.05,452.40" fill="#d8d8d8" stroke="#999" stroke-width="0.8"/>
<text transform="translate(328.65,455.10) scale(1.1124,1)" font-size="7.734" font-weight="bold" font-style="normal" fill="#000" stroke="#000" stroke-width="0.1546741258741252">CLL-9</text>
<line x1="363.50" y1="452.40" x2="375.50" y2="452.40" stroke="#333" stroke-width="1"/>
<rect x="367.90" y="450.80" width="3.20" height="3.20" fill="#d8d8d8" stroke="#999" stroke-width="0.8"/>
<text transform="translate(376.44,455.10) scale(1.1339,1)" font-size="7.734" font-weight="bold" font-style="normal" fill="#000" stroke="#000" stroke-width="0.1546741258741252">CLL-10</text>
<line x1="315.60" y1="464.50" x2="327.70" y2="464.50" stroke="#333" stroke-width="1"/>
<polygon points="321.65,462.90 323.25,465.78 320.05,465.78" fill="#d8d8d8" stroke="#999" stroke-width="0.8"/>
<text transform="translate(328.71,467.20) scale(0.9230,1)" font-size="7.734" font-weight="bold" font-style="normal" fill="#000" stroke="#000" stroke-width="0.1546741258741252">CLL-11</text>
<line x1="363.50" y1="464.50" x2="375.50" y2="464.50" stroke="#333" stroke-width="1"/>
<circle cx="369.50" cy="464.50" r="1.6" fill="#d8d8d8" stroke="#999" stroke-width="0.8"/>
<text transform="translate(376.44,467.20) scale(1.1335,1)" font-size="7.734" font-weight="bold" font-style="normal" fill="#000" stroke="#000" stroke-width="0.1546741258741252">CLL-12</text>
<line x1="315.60" y1="476.50" x2="327.70" y2="476.50" stroke="#333" stroke-width="1"/>
<circle cx="321.65" cy="476.50" r="1.2800000000000002" fill="#666" stroke="#999" stroke-width="0.6"/>
<text transform="translate(328.71,479.20) scale(0.9253,1)" font-size="7.734" font-weight="bold" font-style="normal" fill="#000" stroke="#000" stroke-width="0.1546741258741252">CLL-13</text>
<text transform="translate(323.57,431.50) scale(0.8173,1)" font-size="9.738" font-weight="bold" font-style="normal" fill="#000" stroke="#000" stroke-width="0.34084302325581345">CLL</text>
<text transform="translate(341.75,431.50) scale(0.9291,1)" font-size="9.738" font-weight="bold" font-style="normal" fill="#000" stroke="#000" stroke-width="0.34084302325581345">cells</text>
<text transform="translate(364.91,431.50) scale(1.0173,1)" font-size="9.738" font-weight="bold" font-style="normal" fill="#000" stroke="#000" stroke-width="0.34084302325581345">(High</text>
<text transform="translate(392.85,431.50) scale(1.0139,1)" font-size="9.738" font-weight="bold" font-style="normal" fill="#000" stroke="#000" stroke-width="0.34084302325581345">risk,</text>
<text transform="translate(415.25,431.50) scale(0.9990,1)" font-size="9.738" font-weight="bold" font-style="normal" fill="#000" stroke="#000" stroke-width="0.34084302325581345">Rai</text>
<text transform="translate(433.30,431.50) scale(1.0676,1)" font-size="9.738" font-weight="bold" font-style="normal" fill="#000" stroke="#000" stroke-width="0.34084302325581345">III-IV)</text>
<text transform="translate(314.26,508.50) scale(1.0992,1)" font-size="9.739" font-weight="bold" font-style="italic" fill="#000" stroke="#000" stroke-width="0.34085594405594466">0.33± 0.21</text>
<text transform="translate(453.63,487.30) scale(1.1009,1)" font-size="9.309" font-weight="bold" font-style="italic" fill="#000" stroke="#000" stroke-width="0.32581818181818184">1.68 ± 0.26</text>
<text transform="translate(325.94,565.90) scale(1.0802,1)" font-size="8.020" font-weight="bold" font-style="normal" fill="#000" stroke="#000" stroke-width="0.28070489510489627">CLL +</text>
<text transform="translate(318.22,576.30) scale(1.1210,1)" font-size="7.728" font-weight="bold" font-style="normal" fill="#000" stroke="#000" stroke-width="0.15456603773584657">EphA2-Fc</text>
<text transform="translate(384.59,565.90) scale(1.1331,1)" font-size="7.728" font-weight="bold" font-style="normal" fill="#000" stroke="#000" stroke-width="0.15456603773584968">hFc</text>
<text transform="translate(425.42,565.90) scale(1.0781,1)" font-size="8.020" font-weight="bold" font-style="normal" fill="#000" stroke="#000" stroke-width="0.28070489510489627">HUVECs +</text>
<text transform="translate(426.43,576.30) scale(1.0469,1)" font-size="8.140" font-weight="bold" font-style="normal" fill="#000" stroke="#000" stroke-width="0.28488857345634744">EFNA4-Fc</text>
<text transform="translate(269.50,558.99) rotate(-90) scale(0.9640,1)" font-size="7.267" font-weight="bold" font-style="normal" fill="#000" stroke="#000" stroke-width="0.12">CONJUGATED B-CELLS AT 60 MIN</text>
<text transform="translate(279.60,570.35) rotate(-90) scale(0.9600,1)" font-size="7.267" font-weight="bold" font-style="normal" fill="#000" stroke="#000" stroke-width="0.12">(FOLD CHANGE RELATIVE TO CONTROL)</text>
</svg>
</body></html>
